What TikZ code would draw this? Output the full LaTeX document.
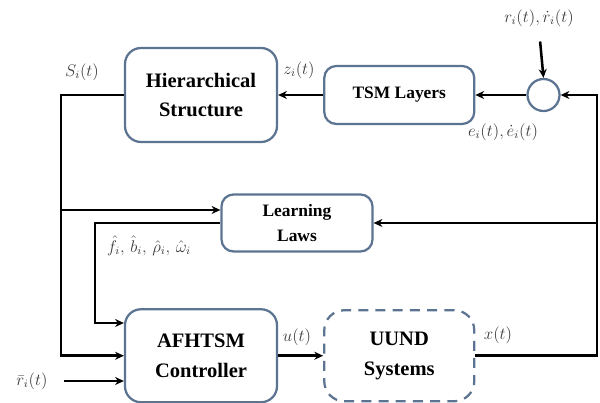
\documentclass[tikz,border=0pt]{standalone}
\usepackage{amsmath}
\usepackage{fontspec}
\setmainfont{Liberation Serif}
\usepackage{xcolor}
\usetikzlibrary{positioning}
\usetikzlibrary{arrows.meta}
\definecolor{boxblue}{RGB}{92,116,146}
\definecolor{lblgray}{RGB}{60,60,60}
\tikzset{
thickline/.style={line width=1.8pt},
flow/.style={thickline, -{Stealth[length=2.2mm, width=2mm]}},
block/.style 2 args={draw=boxblue, line width=1.6pt, rounded corners=4mm, fill=white,
	align=center, font=\bfseries\fontsize{14.6}{21}\selectfont,
	minimum width=#1, minimum height=#2, inner sep=0pt},
smallblock/.style 2 args={block={#1}{#2}, rounded corners=3mm,
	font=\bfseries\fontsize{12.4}{18}\selectfont},
sumnode/.style={draw=boxblue, line width=1.6pt, circle, minimum size=8mm, inner sep=0pt},
lbl/.style={text=lblgray, font=\fontsize{11.5}{13}\selectfont, inner sep=2pt},
}
\begin{document}
\begin{tikzpicture}[x=0.25mm, y=-0.25mm, node distance=11.25mm]
	\useasboundingbox (0,0) rectangle (600,403);
	\node[block={38mm}{23.5mm}] (hier) at (201,95) {Hierarchical\\Structure};
	\node[smallblock={37.5mm}{14.5mm}, right=of hier] (tsm) {TSM Layers};
	\node[sumnode, right=12.75mm of tsm] (sum) {};
	\node[smallblock={37.75mm}{14.25mm}] (learn) at (297,223) {Learning\\Laws};
	\node[block={38mm}{23.25mm}, below=41.25mm of hier] (ctrl) {AFHTSM\\Controller};
	\node[block={37.5mm}{22.75mm}, right=of ctrl, dash pattern=on 2.5mm off 1.8mm,
		rounded corners=5mm] (plant) {UUND\\Systems};
	
	%
	\coordinate (sl) at (61,95);
	\coordinate (sb) at (61,210);
	\coordinate (pl) at (95,223);
	\coordinate (pd) at (95,323);
	\coordinate (fb) at (597,353);
	
	%
	\node[lbl] (rlbl) at (539,18) {$r_i(t),\dot r_i(t)$};
	\node[lbl] (elbl) at (503,132) {$e_i(t),\dot e_i(t)$};
	\node[lbl] (zlbl) at (299,70) {$z_i(t)$};
	\node[lbl] (slbl) at (82,72) {$S_i(t)$};
	\node[lbl] (plbl) at (149,246) {$\hat f_i,\, \hat b_i,\, \hat\rho_i,\, \hat\omega_i$};
	\node[lbl] (ulbl) at (297,337) {$u(t)$};
	\node[lbl] (xlbl) at (498,335) {$x(t)$};
	\node[lbl, inner sep=4mm] (rbar) at (32,381) {$\bar r_i(t)$};
	
	%
	\draw[flow, shorten <=3mm] (rlbl.south) -- (sum.north);
	\draw[flow] (sum.west) -- (tsm.east);
	\draw[flow] (tsm.west) -- (hier.east);
	
	%
	\draw[flow] (hier.west) -- (sl) |- (ctrl.west);
	\draw[flow] (sb) -- (sb -| learn.west);
	\draw[flow] (learn.west) -- (pl) -- (pd) -- (pd -| ctrl.west);
	\draw[flow] (rbar.east) -- (rbar.east -| ctrl.west);
	
	%
	\draw[flow] (ctrl.east) -- (plant.west);
	\draw[flow] (plant.east) -- (plant.east -| fb) |- (sum.east);
	\draw[flow] (fb |- learn.east) -- (learn.east);
\end{tikzpicture}
\end{document}
